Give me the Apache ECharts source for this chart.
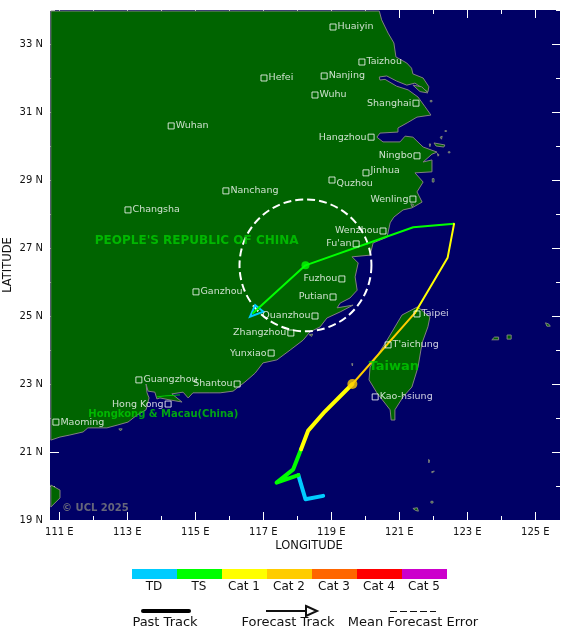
<!DOCTYPE html>
<html>
<head>
<meta charset="utf-8">
<title>Track map</title>
<script src="https://cdn.jsdelivr.net/npm/echarts@6/dist/echarts.min.js"></script>
<style>
html, body { margin: 0; padding: 0; background: #fff; }
#map { width: 580px; height: 639px; }
</style>
</head>
<body>
<div id="map"></div>
<script>
// axis range and ticks
var lonRange = [110.726, 125.726];
var latRange = [19, 34];
var lonMajor = [111, 113, 115, 117, 119, 121, 123, 125];
var lonMinor = [112, 114, 116, 118, 120, 122, 124];
var latMajor = [19, 21, 23, 25, 27, 29, 31, 33];
var latMinor = [20, 22, 24, 26, 28, 30, 32, 34];

// land, lon/lat
var mainland = [
    [110.75,33.97],[120.41,33.97],[120.48,33.71],[120.67,33.32],[120.84,33.03],[120.90,32.62],[121.22,32.44],
    [121.36,32.29],[121.40,32.12],[121.70,32.00],[121.87,31.74],[121.84,31.59],[121.46,31.85],[121.22,31.79],
    [120.92,31.91],[120.63,32.06],[120.41,32.03],[120.43,31.94],[120.58,31.96],[120.92,31.76],[121.26,31.65],
    [121.55,31.44],[121.76,31.15],[121.93,30.91],[121.52,30.85],[121.23,30.68],[120.96,30.53],[120.96,30.41],
    [120.43,30.38],[120.34,30.26],[120.52,30.12],[121.02,30.12],[121.17,30.29],[121.40,30.26],[121.70,29.97],
    [122.11,29.82],[121.96,29.76],[121.70,29.53],[121.96,29.59],[121.96,29.24],[121.46,29.21],[121.70,28.94],
    [121.52,28.65],[121.67,28.35],[121.37,28.18],[121.11,28.12],[120.84,27.91],[120.73,27.74],[120.64,27.32],
    [120.23,27.15],[120.14,26.79],[119.61,26.74],[119.79,26.56],[119.70,26.15],[119.76,25.76],[119.55,25.53],
    [119.26,25.38],[119.17,25.24],[119.64,25.32],[119.26,25.12],[118.87,24.94],[118.67,24.68],[118.37,24.53],
    [118.17,24.29],[117.79,24.00],[117.40,23.71],[116.99,23.62],[116.76,23.32],[116.46,23.06],[116.11,22.79],
    [115.73,22.74],[115.43,22.74],[114.93,22.74],[114.79,22.59],[114.64,22.76],[114.31,22.71],[114.61,22.47],
    [114.26,22.53],[113.96,22.59],[113.87,22.56],[113.81,22.76],[113.61,22.79],[113.55,23.00],[113.58,22.74],
    [113.64,22.59],[113.55,22.24],[113.29,22.09],[113.02,21.88],[112.70,21.79],[112.40,21.71],[111.84,21.71],
    [111.70,21.59],[111.31,21.50],[111.02,21.44],[110.75,21.35]
];
var taiwan = [
    [121.55,25.26],[121.90,24.97],[121.84,24.68],[121.67,24.21],[121.55,23.50],[121.37,22.91],[121.11,22.62],
    [120.87,22.24],[120.87,21.94],[120.76,21.94],[120.73,22.24],[120.34,22.74],[120.11,23.12],[120.14,23.50],
    [120.64,24.29],[121.08,25.03],[121.52,25.26]
];
var hainan = [[110.75,20.03],[111.02,19.88],[111.02,19.65],[110.75,19.38]];
var chongming = [[121.40,31.79],[121.66,31.74],[121.84,31.56],[121.61,31.60]];
var zhoushan = [[122.02,30.09],[122.34,30.03],[122.31,29.97],[122.08,30.00]];
var yaeyama = [[123.72,24.30],[123.92,24.30],[123.92,24.38],[123.80,24.38]];
var iriomote = [[124.17,24.32],[124.29,24.32],[124.29,24.44],[124.17,24.44]];
var miyako = [[125.30,24.80],[125.40,24.76],[125.44,24.70],[125.34,24.70]];
var islets = [
    [[122.20,30.26],[122.26,30.29],[122.24,30.20]],
    [[121.97,29.04],[122.02,29.04],[122.02,28.94],[121.97,28.94]],
    [[121.91,31.34],[121.96,31.34],[121.96,31.30],[121.91,31.30]],
    [[122.34,30.45],[122.39,30.45],[122.39,30.43],[122.34,30.43]],
    [[122.44,29.83],[122.49,29.83],[122.49,29.80],[122.44,29.80]],
    [[122.12,29.78],[122.17,29.74],[122.14,29.70]],
    [[121.88,30.06],[121.92,30.06],[121.90,29.98]],
    [[121.34,28.30],[121.42,28.28],[121.38,28.20]],
    [[121.86,20.78],[121.89,20.76],[121.87,20.68]],
    [[121.95,20.42],[122.03,20.44],[121.97,20.38]],
    [[121.93,19.55],[121.99,19.55],[121.99,19.50],[121.93,19.50]],
    [[121.40,19.34],[121.53,19.36],[121.56,19.26],[121.48,19.28]],
    [[119.60,23.60],[119.63,23.60],[119.62,23.53]],
    [[112.75,21.68],[112.85,21.68],[112.80,21.62]],
    [[118.35,24.45],[118.45,24.47],[118.42,24.40]]
];
var landShapes = [mainland, taiwan, hainan, chongming, zhoushan, yaeyama, iriomote, miyako].concat(islets);

// border line around Hong Kong and Macau
var hkBorder = [[113.87,22.62],[114.10,22.65],[114.55,22.68]];

// past track by intensity
var pastTD = [[118.76,19.71],[118.24,19.61],[118.03,20.32]];
var pastTS = [[118.03,20.32],[117.39,20.10],[117.88,20.49],[118.11,21.08]];
var pastCat1 = [[118.11,21.08],[118.32,21.63],[118.81,22.19],[119.62,23.00]];

// forecast track by intensity
var forecastCat2 = [[119.62,23.00],[121.46,25.09]];
var forecastCat1 = [[121.46,25.09],[122.42,26.71],[122.61,27.71]];
var forecastTS = [[122.61,27.71],[121.41,27.61],[118.24,26.49],[116.70,25.09]];
var arrowTip = [[116.61,24.98],[116.76,25.32],[117.00,25.13],[116.61,24.98]];

// current position, forecast point and the mean error circle (radius in degrees)
var currentPos = [[119.62,23.00]];
var forecastPos = [[118.24,26.49]];
var errorCircle = [[118.24,26.49,1.94]];

// cities
var cityNames = ['Huaiyin','Taizhou','Nanjing','Hefei','Wuhu','Shanghai','Wuhan','Hangzhou','Ningbo','Jinhua','Quzhou',
    'Nanchang','Wenling','Changsha','Wenzhou',"Fu'an",'Fuzhou','Ganzhou','Putian','Quanzhou','Zhangzhou','Yunxiao',
    'Taipei',"T'aichung",'Kao-hsiung','Shantou','Guangzhou','Hong Kong','Maoming'];
var cityCoords = [[119.05,33.50],[119.90,32.47],[118.79,32.06],[117.02,32.00],[118.52,31.50],[121.49,31.26],[114.29,30.59],
    [120.17,30.26],[121.52,29.71],[120.02,29.21],[119.02,29.00],[115.90,28.68],[121.40,28.44],[113.02,28.12],[120.52,27.50],
    [119.73,27.12],[119.31,26.09],[115.02,25.71],[119.05,25.56],[118.52,25.00],[117.81,24.50],[117.23,23.91],[121.52,25.06],
    [120.67,24.15],[120.29,22.62],[116.23,23.00],[113.34,23.12],[114.20,22.41],[110.90,21.88]];
var leftLabelCities = ['Shanghai','Hangzhou','Ningbo','Wenling','Wenzhou',"Fu'an",'Fuzhou','Putian','Quanzhou',
    'Zhangzhou','Yunxiao','Shantou','Hong Kong'];

// region names
var regionNames = ["PEOPLE'S REPUBLIC OF CHINA", 'Taiwan', 'Hongkong & Macau(China)'];
var regionCoords = [[115.04,27.21],[120.84,23.50],[114.06,22.12]];
var creditText = ['\u00a9 UCL 2025'];
var creditCoord = [[112.06,19.35]];

// legend
var catLabels = ['TD', 'TS', 'Cat 1', 'Cat 2', 'Cat 3', 'Cat 4', 'Cat 5'];
var catColors = ['#00ccff', '#00ff00', '#ffff00', '#ffcc00', '#ff6600', '#ff0000', '#cc00cc'];

var fontName = 'DejaVu Sans';
var seaColor = '#000066';
var landColor = '#006400';
var coastColor = '#808080';
var tickColor = '#ffffff';

// a few labels sit off the marker's centre line
var labelNudge = { Quzhou: [0, 4], Jinhua: [0, -2] };

function tickAxis(range, position, values, len, extra) {
    var axis = {
        type: 'value',
        min: range[0],
        max: range[1],
        position: position,
        axisLine: { show: false, onZero: false },
        splitLine: { show: false },
        axisLabel: { show: false },
        axisTick: { show: true, inside: true, length: len, customValues: values, lineStyle: { color: tickColor, width: 1 } }
    };
    return Object.assign(axis, extra || {});
}

function polygonItem(params, api) {
    var pts = landShapes[params.dataIndex].map(function (p) { return api.coord(p); });
    return {
        type: 'polygon',
        shape: { points: pts },
        style: { fill: landColor, stroke: coastColor, lineWidth: 1 }
    };
}

function circleItem(params, api) {
    var c = api.coord([api.value(0), api.value(1)]);
    return {
        type: 'circle',
        shape: { cx: c[0], cy: c[1], r: api.size([api.value(2), 0])[0] },
        style: { fill: 'none', stroke: '#ffffff', lineWidth: 2, lineDash: [8, 4] }
    };
}

function arrowItem(params, api) {
    return {
        type: 'polygon',
        shape: { points: arrowTip.map(function (p) { return api.coord(p); }) },
        style: { fill: 'none', stroke: catColors[0], lineWidth: 2 }
    };
}

function trackLine(points, color, width) {
    return {
        type: 'line',
        data: points,
        symbol: 'none',
        z: 5,
        lineStyle: { color: color, width: width, cap: 'round', join: 'round' }
    };
}

function textScatter(names, coords, color, size) {
    return {
        type: 'scatter',
        symbolSize: 0,
        z: 6,
        data: names.map(function (n, i) { return { name: n, value: coords[i] }; }),
        label: {
            show: true,
            position: 'inside',
            formatter: '{b}',
            color: color,
            fontFamily: fontName,
            fontWeight: 'bold',
            fontSize: size
        }
    };
}

// legend drawn under the map
function legendGraphics() {
    var items = [];
    var textStyle = function (text, x, y, size) {
        return {
            type: 'text',
            x: x,
            y: y,
            style: { text: text, fill: '#111', font: size + 'px "' + fontName + '"', textAlign: 'center', textVerticalAlign: 'middle' }
        };
    };
    catColors.forEach(function (color, i) {
        items.push({ type: 'rect', shape: { x: 132 + i * 45, y: 569, width: 45, height: 10 }, style: { fill: color } });
        items.push(textStyle(catLabels[i], 154 + i * 45, 587, 12));
    });
    items.push({ type: 'line', shape: { x1: 143, y1: 611, x2: 189, y2: 611 }, style: { stroke: '#000', lineWidth: 4, lineCap: 'round' } });
    items.push(textStyle('Past Track', 165, 623, 13));
    items.push({ type: 'line', shape: { x1: 266, y1: 611, x2: 306, y2: 611 }, style: { stroke: '#111', lineWidth: 2 } });
    items.push({ type: 'polygon', shape: { points: [[306, 606], [317, 611], [306, 616]] }, style: { fill: '#fff', stroke: '#111', lineWidth: 2 } });
    items.push(textStyle('Forecast Track', 288, 623, 13));
    items.push({ type: 'line', shape: { x1: 390, y1: 611.5, x2: 436, y2: 611.5 }, style: { stroke: '#111', lineWidth: 1, lineDash: [7, 3] } });
    items.push(textStyle('Mean Forecast Error', 413, 623, 13));
    return items;
}

var chart = echarts.init(document.getElementById('map'));
var option = {
    animation: false,
    backgroundColor: '#ffffff',
    grid: { show: true, left: 50, top: 10, width: 510, height: 510, backgroundColor: seaColor, borderWidth: 0, outerBoundsMode: 'none' },
    xAxis: [
        tickAxis(lonRange, 'bottom', lonMajor, 8, {
            name: 'LONGITUDE',
            nameLocation: 'middle',
            nameMoveOverlap: false,
            nameGap: 20,
            nameTextStyle: { color: '#111', fontFamily: fontName, fontSize: 11.5, padding: [0, 0, 0, 8] },
            axisLabel: {
                show: true,
                customValues: lonMajor,
                margin: 7,
                color: '#111',
                fontFamily: fontName,
                fontSize: 10,
                formatter: function (v) { return v + ' E'; }
            }
        }),
        tickAxis(lonRange, 'bottom', lonMinor, 4),
        tickAxis(lonRange, 'top', lonMajor, 8),
        tickAxis(lonRange, 'top', lonMinor, 4)
    ],
    yAxis: [
        tickAxis(latRange, 'left', latMajor, 9, {
            name: 'LATITUDE',
            nameLocation: 'middle',
            nameMoveOverlap: false,
            nameGap: 36,
            nameTextStyle: { color: '#111', fontFamily: fontName, fontSize: 11.5 },
            axisLabel: {
                show: true,
                customValues: latMajor,
                margin: 7,
                color: '#111',
                fontFamily: fontName,
                fontSize: 10,
                formatter: function (v) { return v + ' N'; }
            }
        }),
        tickAxis(latRange, 'left', latMinor, 5),
        tickAxis(latRange, 'right', latMajor, 8),
        tickAxis(latRange, 'right', latMinor, 4)
    ],
    graphic: legendGraphics(),
    series: [
        {
            type: 'custom',
            renderItem: polygonItem,
            clip: true,
            z: 1,
            silent: true,
            data: landShapes.map(function (s) { return s[0]; })
        },
        {
            type: 'line',
            data: hkBorder,
            symbol: 'none',
            z: 2,
            lineStyle: { color: '#00cc00', width: 1 }
        },
        textScatter(regionNames.slice(0, 1), regionCoords.slice(0, 1), '#00cc00', 12),
        textScatter(regionNames.slice(1, 2), regionCoords.slice(1, 2), '#00cc00', 13),
        textScatter(regionNames.slice(2), regionCoords.slice(2), '#00cc00', 10),
        textScatter(creditText, creditCoord, '#808080', 10),
        {
            type: 'custom',
            renderItem: circleItem,
            z: 4,
            data: errorCircle
        },
        {
            type: 'custom',
            renderItem: arrowItem,
            z: 5,
            data: [arrowTip[0]]
        },
        trackLine(forecastTS, catColors[1], 2),
        trackLine(forecastCat1, catColors[2], 2),
        trackLine(forecastCat2, catColors[3], 2),
        trackLine(pastTD, catColors[0], 4),
        trackLine(pastTS, catColors[1], 4),
        trackLine(pastCat1, catColors[2], 4),
        {
            type: 'scatter',
            z: 7,
            symbolSize: 8,
            itemStyle: { color: catColors[1] },
            data: forecastPos
        },
        {
            type: 'scatter',
            z: 7,
            symbolSize: 10,
            itemStyle: { color: catColors[3] },
            data: currentPos
        },
        {
            type: 'scatter',
            z: 8,
            symbol: 'rect',
            symbolSize: 6,
            itemStyle: { color: 'rgba(0,0,0,0)', borderColor: '#ffffff', borderWidth: 1 },
            data: cityNames.map(function (name, i) {
                var onLeft = leftLabelCities.indexOf(name) >= 0;
                return {
                    name: name,
                    value: cityCoords[i],
                    label: { position: onLeft ? 'left' : 'right', offset: labelNudge[name] || [0, 0] }
                };
            }),
            label: {
                show: true,
                formatter: '{b}',
                distance: 1,
                color: '#ffffff',
                fontFamily: fontName,
                fontSize: 9.5
            }
        }
    ]
};
chart.setOption(option);
</script>
</body>
</html>
